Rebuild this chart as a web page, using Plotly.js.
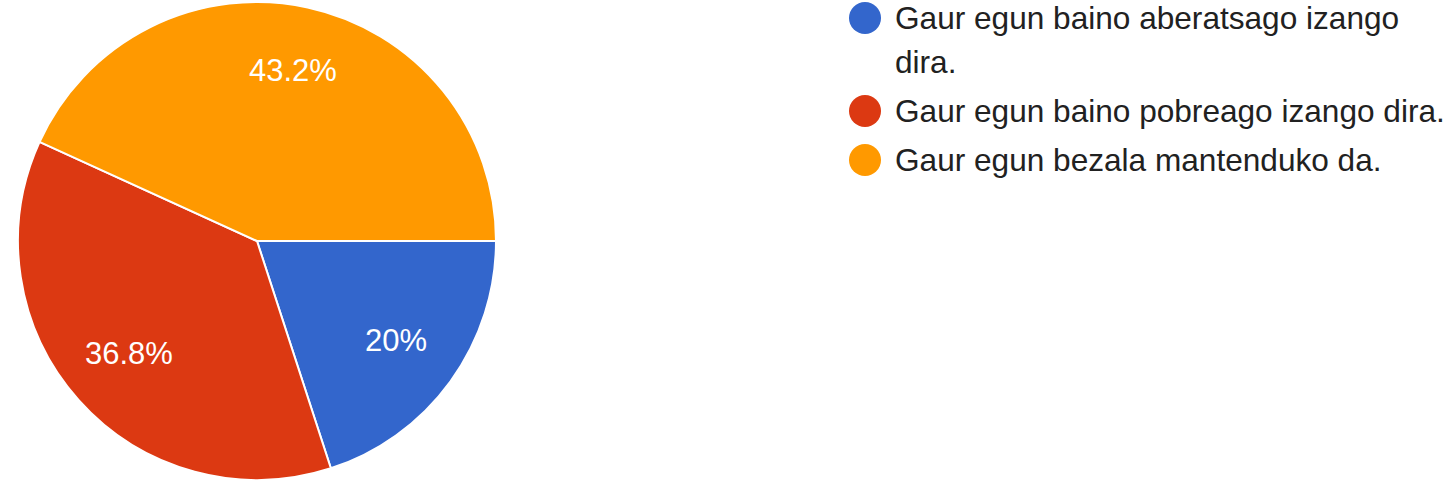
<!DOCTYPE html>
<html>
<head>
<meta charset="utf-8">
<script src="https://cdn.plot.ly/plotly-3.0.1.min.js"></script>
<style>
  html, body { margin: 0; padding: 0; background: #fff; }
  #myDiv { width: 1447px; height: 483px; }
</style>
</head>
<body>
<div id="myDiv"></div>
<script>
    // ---------------------------- data ----------------------------
    var labels = ['Gaur egun baino aberatsago izango dira.',
                  'Gaur egun baino pobreago izango dira.',
                  'Gaur egun bezala mantenduko da.'];
    var counts = [25, 46, 54];   // 20% / 36.8% / 43.2%
    var colors = ['#3366cc', '#dc3912', '#ff9900'];

    var W = 1447, H = 483;
    var fontFam = '"Liberation Sans", Arial, sans-serif';

    // pie geometry in px
    var cx = 257, cy = 241, R = 239;

    var pie = {
      type: 'pie',
      labels: labels,
      values: counts,
      sort: false,
      direction: 'clockwise',
      rotation: 90,
      textinfo: 'none',
      marker: {colors: colors, line: {color: '#ffffff', width: 2}},
      domain: {x: [(cx - R) / W, (cx + R) / W], y: [1 - (cy + R) / H, 1 - (cy - R) / H]},
      showlegend: false,
      hoverinfo: 'label+percent'
    };

    var shapes = [], annotations = [];

    // percent labels, placed at the slice's mid angle (google-chart style)
    var total = counts.reduce(function (a, b) { return a + b; }, 0);
    var cum = 0;
    for (var j = 0; j < counts.length; j++) {
      var frac = counts[j] / total;
      var ang = (cum + frac / 2) * 2 * Math.PI;   // clockwise from 3 o'clock
      cum += frac;
      var pct = Math.round(frac * 1000) / 10;
      annotations.push({
        text: pct + '%', xref: 'paper', yref: 'paper',
        x: (cx + 0.72 * R * Math.cos(ang)) / W,
        y: 1 - (cy - 2 + 0.72 * R * Math.sin(ang)) / H,
        xanchor: 'center', yanchor: 'middle', showarrow: false,
        font: {family: fontFam, size: 31, color: '#ffffff'}
      });
    }

    // ------------------- legend (circles + text) -------------------
    var maxChars = 37;
    function wrap(s) {
      var words = s.split(' '), lines = [], cur = '';
      words.forEach(function (w) {
        var t = cur ? cur + ' ' + w : w;
        if (t.length > maxChars && cur) { lines.push(cur); cur = w; } else { cur = t; }
      });
      lines.push(cur);
      return lines;
    }

    var yPos = 18;            // centre of first legend row, px from top
    var lineH = 44, gap = 49;
    for (var i = 0; i < labels.length; i++) {
      shapes.push({
        type: 'circle', xref: 'paper', yref: 'paper',
        x0: 849 / W, x1: 881 / W,
        y0: 1 - (yPos + 16) / H, y1: 1 - (yPos - 16) / H,
        fillcolor: colors[i], line: {width: 0}
      });
      var lines = wrap(labels[i]);
      for (var k = 0; k < lines.length; k++) {
        annotations.push({
          text: lines[k], xref: 'paper', yref: 'paper',
          x: 893 / W, y: 1 - (yPos + k * lineH) / H,
          xanchor: 'left', yanchor: 'middle', showarrow: false,
          font: {family: fontFam, size: 31.6, color: '#212121'}
        });
      }
      yPos += (lines.length - 1) * lineH + gap;
    }

    var layout = {
      width: W, height: H,
      margin: {l: 0, r: 0, t: 0, b: 0},
      paper_bgcolor: '#ffffff',
      showlegend: false,
      shapes: shapes,
      annotations: annotations,
      font: {family: fontFam}
    };

    Plotly.newPlot('myDiv', [pie], layout, {displayModeBar: false, staticPlot: true});
</script>
</body>
</html>
